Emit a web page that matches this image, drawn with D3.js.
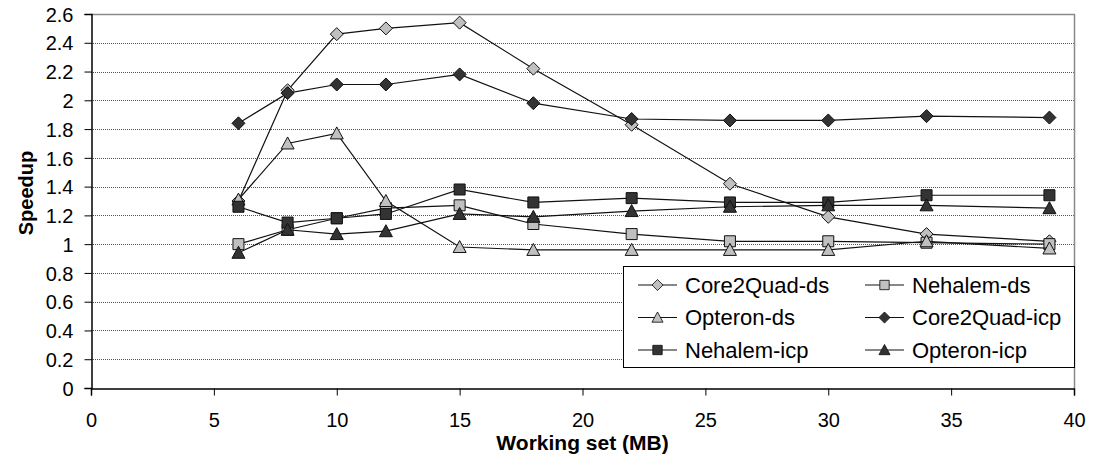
<!DOCTYPE html>
<html>
<head>
<meta charset="utf-8">
<script src="https://cdn.jsdelivr.net/npm/d3@7"></script>
<style>
  body { margin: 0; background: #fff; }
  text { font-family: "Liberation Sans", Arial, sans-serif; }
</style>
</head>
<body>
<script>
// Canvas config
const config = { width: 1094, height: 461 };
const margin = { left: 91, right: 20, top: 14, bottom: 73 };

// Data
const workingSet = [6, 8, 10, 12, 15, 18, 22, 26, 30, 34, 39];
const core2QuadDs = [1.30, 2.07, 2.46, 2.50, 2.54, 2.22, 1.83, 1.42, 1.19, 1.07, 1.02];
const nehalemDs = [1.00, 1.10, 1.18, 1.25, 1.27, 1.14, 1.07, 1.02, 1.02, 1.01, 1.00];
const opteronDs = [1.31, 1.70, 1.77, 1.30, 0.98, 0.96, 0.96, 0.96, 0.96, 1.02, 0.97];
const core2QuadIcp = [1.84, 2.05, 2.11, 2.11, 2.18, 1.98, 1.87, 1.86, 1.86, 1.89, 1.88];
const nehalemIcp = [1.26, 1.15, 1.18, 1.21, 1.38, 1.29, 1.32, 1.29, 1.29, 1.34, 1.34];
const opteronIcp = [0.94, 1.10, 1.07, 1.09, 1.21, 1.19, 1.23, 1.26, 1.27, 1.27, 1.25];

const xTicks = [0, 5, 10, 15, 20, 25, 30, 35, 40];
const yTicks = [0, 0.2, 0.4, 0.6, 0.8, 1, 1.2, 1.4, 1.6, 1.8, 2, 2.2, 2.4, 2.6];

const series = [
  { name: "Core2Quad-ds", values: core2QuadDs, shape: "diamond", fill: "#c0c0c0" },
  { name: "Nehalem-ds", values: nehalemDs, shape: "square", fill: "#c0c0c0" },
  { name: "Opteron-ds", values: opteronDs, shape: "triangle", fill: "#c0c0c0" },
  { name: "Core2Quad-icp", values: core2QuadIcp, shape: "diamond", fill: "#333333" },
  { name: "Nehalem-icp", values: nehalemIcp, shape: "square", fill: "#333333" },
  { name: "Opteron-icp", values: opteronIcp, shape: "triangle", fill: "#333333" }
];

const svg = d3.select("body").append("svg")
  .attr("width", config.width)
  .attr("height", config.height);

const x = d3.scaleLinear().domain([0, 40]).range([margin.left, config.width - margin.right]);
const y = d3.scaleLinear().domain([0, 2.6]).range([config.height - margin.bottom, margin.top]);

// Gridlines
svg.append("g")
  .selectAll("line")
  .data(yTicks.filter(d => d > 0 && d < 2.6))
  .enter()
  .append("line")
  .attr("x1", x(0))
  .attr("x2", x(40))
  .attr("y1", d => Math.round(y(d)) + 0.5)
  .attr("y2", d => Math.round(y(d)) + 0.5)
  .attr("stroke", "#555")
  .attr("stroke-width", 1)
  .attr("stroke-dasharray", "1,1");

// Plot border (top and right)
svg.append("path")
  .attr("d", `M${x(0)},${Math.round(y(2.6)) + 0.5}H${Math.round(x(40)) + 0.5}V${y(0)}`)
  .attr("fill", "none")
  .attr("stroke", "#8a8a8a")
  .attr("stroke-width", 1.5);

// Axes
const yAxis = svg.append("g")
  .attr("transform", `translate(${Math.round(x(0)) + 0.5},0)`)
  .call(d3.axisLeft(y).tickValues(yTicks).tickSize(7).tickFormat(d3.format("")));
const xAxis = svg.append("g")
  .attr("transform", `translate(0,${Math.round(y(0)) + 0.5})`)
  .call(d3.axisBottom(x).tickValues(xTicks).tickSize(7));

[yAxis, xAxis].forEach(a => {
  a.select(".domain").attr("stroke", "#000").attr("stroke-width", 1.5);
  a.selectAll(".tick line").attr("stroke", "#000");
  a.selectAll(".tick text")
    .attr("font-size", 20)
    .attr("font-family", "Liberation Sans, Arial, sans-serif")
    .attr("fill", "#000");
});
yAxis.selectAll(".tick text").attr("x", -18).attr("dy", "0.36em");
xAxis.selectAll(".tick text").attr("dy", null).attr("y", 38);

// Axis titles
svg.append("text")
  .attr("x", (x(0) + x(40)) / 2)
  .attr("y", 450)
  .attr("text-anchor", "middle")
  .attr("font-size", 21)
  .attr("font-weight", "bold")
  .text("Working set (MB)");

svg.append("text")
  .attr("transform", `translate(33,${(y(0) + y(2.6)) / 2 - 8}) rotate(-90)`)
  .attr("text-anchor", "middle")
  .attr("font-size", 20)
  .attr("font-weight", "bold")
  .text("Speedup");

// Symbols
const symbolPath = shape => {
  if (shape === "diamond") return "M0,-6.5L6.5,0L0,6.5L-6.5,0Z";
  if (shape === "square") return "M-5.5,-5.5H5.5V5.5H-5.5Z";
  return "M0,-6.5L6.5,5.5L-6.5,5.5Z";
};

const line = d3.line()
  .x(d => x(d[0]))
  .y(d => y(d[1]));

const seriesGroup = svg.append("g")
  .selectAll("g")
  .data(series)
  .enter()
  .append("g");

seriesGroup.append("path")
  .attr("d", d => line(workingSet.map((w, i) => [w, d.values[i]])))
  .attr("fill", "none")
  .attr("stroke", "#111")
  .attr("stroke-width", 1.2);

seriesGroup.selectAll(".marker")
  .data(d => d.values.map((v, i) => ({ x: workingSet[i], y: v, s: d })))
  .enter()
  .append("path")
  .attr("class", "marker")
  .attr("transform", d => `translate(${x(d.x)},${y(d.y)})`)
  .attr("d", d => symbolPath(d.s.shape))
  .attr("fill", d => d.s.fill)
  .attr("stroke", "#111")
  .attr("stroke-width", 1);

// Legend
const legend = svg.append("g");
legend.append("rect")
  .attr("x", 623.5).attr("y", 266.5)
  .attr("width", Math.round(x(40)) - 623).attr("height", 101)
  .attr("fill", "#fff")
  .attr("stroke", "#000");

const legendItem = legend.selectAll(".legend-item")
  .data(series)
  .enter()
  .append("g")
  .attr("class", "legend-item")
  .attr("transform", (d, i) => `translate(${i % 2 === 0 ? 638 : 865},${285 + Math.floor(i / 2) * 32.5})`);

legendItem.append("line")
  .attr("x1", 0).attr("x2", 39)
  .attr("stroke", "#111").attr("stroke-width", 1.2);
legendItem.append("path")
  .attr("transform", "translate(19.5,0) scale(0.85)")
  .attr("d", d => symbolPath(d.shape))
  .attr("fill", d => d.fill)
  .attr("stroke", "#111");
legendItem.append("text")
  .attr("x", 47)
  .attr("dy", "0.36em")
  .attr("font-size", 22)
  .text(d => d.name);
</script>
</body>
</html>
